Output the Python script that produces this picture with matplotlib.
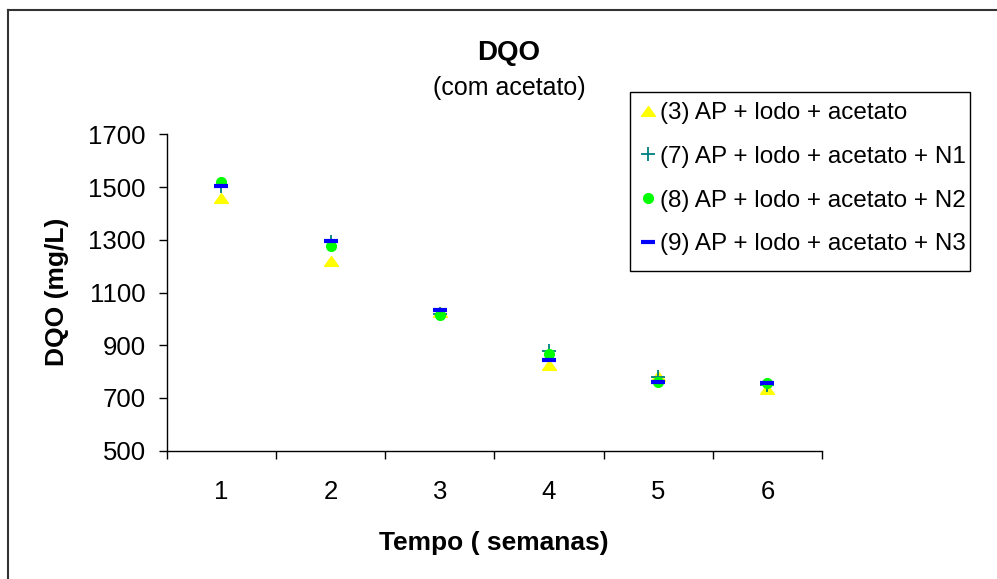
import numpy as np
import matplotlib.pyplot as plt
from matplotlib.lines import Line2D
from matplotlib.patches import Rectangle

plt.rcParams['font.family'] = ['Liberation Sans', 'DejaVu Sans']

# DQO ao longo do tempo (ensaios com acetato)
semanas = [1, 2, 3, 4, 5, 6]
dqo_3 = [1460, 1220, 1025, 825, 785, 735]
dqo_7 = [1505, 1290, 1020, 880, 780, 750]
dqo_8 = [1520, 1275, 1015, 865, 760, 755]
dqo_9 = [1505, 1295, 1035, 845, 760, 755]

labels = ['(3) AP + lodo + acetato',
          '(7) AP + lodo + acetato + N1',
          '(8) AP + lodo + acetato + N2',
          '(9) AP + lodo + acetato + N3']

yticks = [500, 700, 900, 1100, 1300, 1500, 1700]

W, H = 997, 579
fig = plt.figure(figsize=(W / 100, H / 100), dpi=100)
ax = fig.add_axes([166.7 / W, 1 - 450.7 / H, (822 - 166.7) / W, (450.7 - 134.3) / H])

# triangulo achatado (mais largo que alto)
tri = [(-1, -0.7), (1, -0.7), (0, 0.7), (-1, -0.7)]

ax.plot(semanas, dqo_3, linestyle='none', marker=tri, ms=10,
        color='#FFFF00', mec='#FFFF00', label=labels[0])
ax.plot(semanas, dqo_7, linestyle='none', marker='+', ms=10, mew=1.3,
        color='#008080', label=labels[1])
ax.plot(semanas, dqo_8, linestyle='none', marker='o', ms=7,
        color='#00FF00', mec='#00FF00', label=labels[2])
ax.plot(semanas, dqo_9, linestyle='none', marker='_', ms=10.5, mew=3,
        color='#0000FF', label=labels[3])

ax.set_xlim(0.5, 6.5)
ax.set_ylim(500, 1700)
ax.set_yticks(yticks)
ax.tick_params(axis='y', direction='out', length=6, width=1, pad=9, labelsize=18.5)

# ticks nos limites das categorias, rotulos no centro
ax.set_xticks(np.arange(0.5, 7, 1))
ax.set_xticklabels([])
ax.set_xticks(semanas, minor=True)
ax.set_xticklabels([str(s) for s in semanas], minor=True)
ax.tick_params(axis='x', which='major', direction='out', length=6, width=1)
ax.tick_params(axis='x', which='minor', length=0, pad=21, labelsize=18.5)

for side in ['top', 'right']:
    ax.spines[side].set_visible(False)
for side in ['left', 'bottom']:
    ax.spines[side].set_linewidth(1)

fig.text(509 / W, 1 - 53 / H, 'DQO', ha='center', va='center',
         fontsize=20, fontweight='bold')
fig.text(509 / W, 1 - 88 / H, '(com acetato)', ha='center', va='center', fontsize=18)
fig.text(494 / W, 1 - 543 / H, 'Tempo ( semanas)', ha='center', va='center',
         fontsize=19, fontweight='bold')
fig.text(57 / W, 1 - 292 / H, 'DQO (mg/L)', ha='center', va='center',
         fontsize=19, fontweight='bold', rotation=90)

# legenda sem moldura; a caixa vai desenhada a parte
leg = ax.legend(loc='upper left', bbox_to_anchor=(630 / W, 1 - 92 / H),
                bbox_transform=fig.transFigure, borderaxespad=0,
                fontsize=17.5, frameon=False,
                handlelength=0.6, handletextpad=0.2, labelspacing=0.89,
                borderpad=0.42)
fig.add_artist(Rectangle((630 / W, 1 - 271 / H), 340 / W, 179 / H,
                         transform=fig.transFigure, fill=False,
                         edgecolor='black', lw=1))

# moldura da area do grafico (so topo e esquerda aparecem)
fig.add_artist(Line2D([8 / W, 1], [1 - 10 / H, 1 - 10 / H], color='#333333', lw=1.5))
fig.add_artist(Line2D([8 / W, 8 / W], [0, 1 - 10 / H], color='#333333', lw=1.5))

fig.savefig('out.png', dpi=100)
